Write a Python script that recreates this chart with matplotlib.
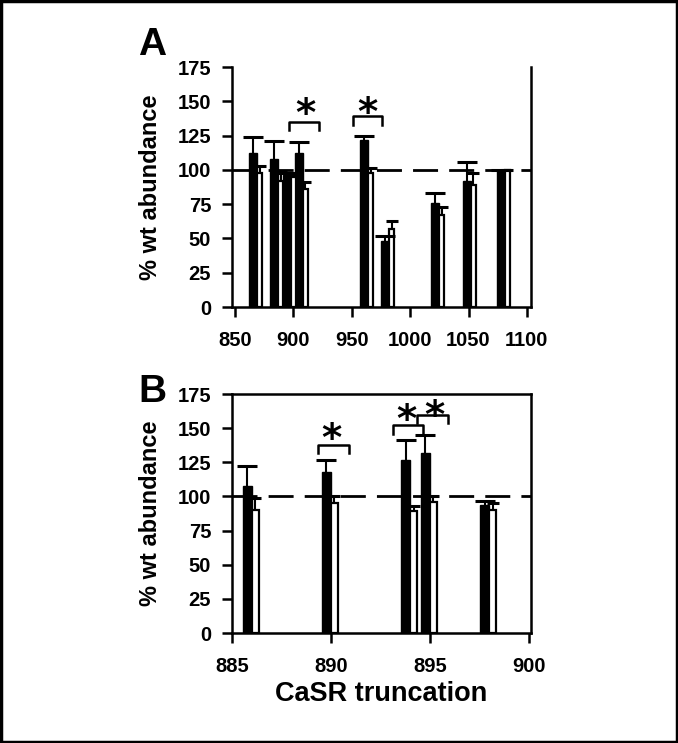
import matplotlib
matplotlib.use("Agg")
import matplotlib.pyplot as plt
from matplotlib.patches import Rectangle
import numpy as np

plt.rcParams['font.family'] = ['Liberation Sans', 'DejaVu Sans']
plt.rcParams['font.weight'] = 'bold'

# panel A: truncation position (black bar left of it, white bar right of it)
a_pos = [869, 887, 898, 908, 964, 982, 1025, 1052, 1081]
a_black = [112, 108, 96, 112, 122, 48, 76, 92, 100]
a_black_err = [12, 13, 2, 8, 3, 4, 7, 14, 0]
a_white = [98, 92, 95, 86, 98, 57, 67, 89, 100]
a_white_err = [5, 7, 2, 5, 3, 6, 6, 9, 0]
a_brackets = [(896, 922, 135), (951, 976, 139)]
a_stars = [(910, 140), (963.5, 141)]

# panel B
b_pos = [886, 890, 894, 895, 898]
b_black = [108, 118, 127, 132, 94]
b_black_err = [14, 9, 14, 13, 3]
b_white = [90, 95, 89, 96, 90]
b_white_err = [9, 5, 4, 4, 5]
b_brackets = [(889.35, 890.9, 138), (893.15, 894.65, 152), (894.35, 895.9, 159.5)]
b_stars = [(890.0, 141), (893.8, 155), (895.2, 158)]

yticks = [0, 25, 50, 75, 100, 125, 150, 175]

fig = plt.figure(figsize=(6.78, 7.43), dpi=100)
fig.patches.append(Rectangle((0.002, 0.002), 0.996, 0.996, transform=fig.transFigure,
                             fill=False, lw=2.5, ec='black'))

axA = fig.add_axes([0.3422, 0.5868, 0.441, 0.323])
axB = fig.add_axes([0.3422, 0.148, 0.441, 0.3217])


def draw(ax, pos, blk, blk_err, wht, wht_err, wb, ww, brackets, stars, leg):
    pos = np.array(pos, dtype=float)
    ax.axhline(100, color='black', lw=2, dashes=(9, 4), zorder=1)
    ax.bar(pos, blk, width=-wb, align='edge', color='black', edgecolor='black', lw=1, zorder=3)
    ax.bar(pos, wht, width=ww, align='edge', color='white', edgecolor='black', lw=1.6, zorder=3)
    for xs, v, e, cs in [(pos - wb / 2, blk, blk_err, 7), (pos + ww / 2, wht, wht_err, 4)]:
        eb = ax.errorbar(xs, v, yerr=[np.zeros(len(v)), e], fmt='none', ecolor='black',
                         elinewidth=1.5, capsize=cs, capthick=2.2, zorder=4)
        eb[1][0].set_visible(False)
    for x0, x1, y in brackets:
        ax.plot([x0, x0, x1, x1], [y - leg, y, y, y - leg], color='black', lw=1.8, zorder=5)
    for x, y in stars:
        ax.text(x, y, '*', fontsize=28, fontweight='bold', family='DejaVu Sans',
                ha='center', va='center', zorder=5)
    ax.set_ylim(0, 175)
    ax.set_yticks(yticks)
    ax.tick_params(axis='both', labelsize=14.5, width=1.8, length=7, direction='out')
    ax.tick_params(axis='y', pad=8)
    ax.tick_params(axis='x', pad=10)
    for s in ax.spines.values():
        s.set_linewidth(1.8)
    ax.set_ylabel('% wt abundance', fontsize=17, fontweight='bold')
    ax.yaxis.set_label_coords(-0.235, 0.5)
    for lab in ax.get_xticklabels() + ax.get_yticklabels():
        lab.set_fontweight('bold')


draw(axA, a_pos, a_black, a_black_err, a_white, a_white_err, 6.8, 4.3,
     a_brackets, a_stars, 6)
axA.set_xlim(847.5, 1103.5)
axA.set_xticks([850, 900, 950, 1000, 1050, 1100])
axA.spines['top'].set_visible(False)
for lab in axA.get_xticklabels():
    lab.set_fontweight('bold')

draw(axB, b_pos, b_black, b_black_err, b_white, b_white_err, 0.46, 0.35,
     b_brackets, b_stars, 6)
axB.set_xlim(885, 900.1)
axB.set_xticks([885, 890, 895, 900])
for lab in axB.get_xticklabels():
    lab.set_fontweight('bold')

fig.text(0.204, 0.963, 'A', fontsize=28, fontweight='bold', ha='left', va='top')
fig.text(0.204, 0.497, 'B', fontsize=28, fontweight='bold', ha='left', va='top')
fig.text(0.5627, 0.066, 'CaSR truncation', fontsize=19.5, fontweight='bold',
         ha='center', va='center')

fig.savefig('out.png', dpi=100)
